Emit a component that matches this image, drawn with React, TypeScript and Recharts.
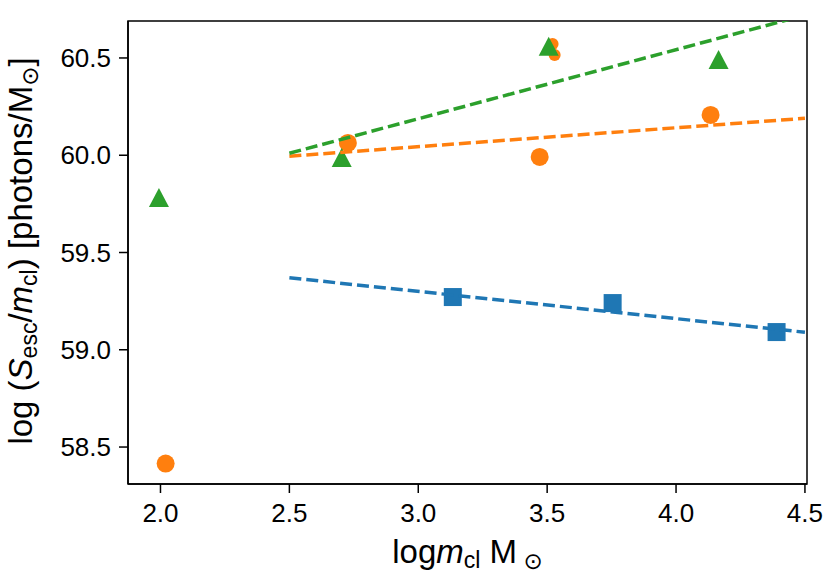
import { ScatterChart, Scatter, XAxis, YAxis, ReferenceArea } from 'recharts'

// marker data
const blueX = [3.134, 3.754, 4.39]
const blueY = [59.271, 59.24, 59.091]

const orangeX = [2.02, 2.727, 3.471, 4.134]
const orangeY = [58.415, 60.063, 59.991, 60.207]

const orangeSmallX = [3.521, 3.529]
const orangeSmallY = [60.572, 60.515]

const greenX = [1.994, 2.703, 3.506, 4.165]
const greenY = [59.78, 59.986, 60.558, 60.49]

// dashed fit lines
const fitX = [2.5, 4.5]
const blueFit = [59.37, 59.09]
const orangeFit = [59.995, 60.19]
const greenFit = [60.01, 60.72]

const xTicks = [2.0, 2.5, 3.0, 3.5, 4.0, 4.5]
const yTicks = [58.5, 59.0, 59.5, 60.0, 60.5]
const xDomain = [1.874, 4.508]
const yDomain = [58.31, 60.69]

const BLUE = '#1f77b4'
const ORANGE = '#ff7f0e'
const GREEN = '#2ca02c'
const FONT = '"Liberation Sans", Arial, "DejaVu Sans", sans-serif'

const toPoints = (xs, ys) => xs.map((x, i) => ({ x, y: ys[i] }))

const dot = (r) => (p) => <circle cx={p.cx} cy={p.cy} r={r} fill={p.fill} />
const square = (p) => <rect x={p.cx - 9} y={p.cy - 9} width={18} height={18} fill={p.fill} />
const triangle = (p) => (
  <polygon
    points={`${p.cx},${p.cy - 10} ${p.cx - 10},${p.cy + 9} ${p.cx + 10},${p.cy + 9}`}
    fill={p.fill}
  />
)
const noShape = () => <g />

const XLabel = ({ viewBox }) => {
  const cx = viewBox.x + viewBox.width / 2
  const y = viewBox.y + 79
  return (
    <text x={cx} y={y} textAnchor="middle" fontSize={33} fontFamily={FONT} fill="#000">
      <tspan>log</tspan>
      <tspan fontStyle="italic">m</tspan>
      <tspan fontSize={23} dy={5}>cl</tspan>
      <tspan dy={-5}> M</tspan>
      <tspan fontSize={23} dy={6}> ⊙</tspan>
    </text>
  )
}

const YLabel = ({ viewBox }) => {
  const x = viewBox.x + 32
  const y = 251
  return (
    <text x={x} y={y} textAnchor="middle" fontSize={33} fontFamily={FONT} fill="#000"
      transform={`rotate(-90, ${x}, ${y})`}>
      <tspan>log (</tspan>
      <tspan fontStyle="italic">S</tspan>
      <tspan fontSize={23} dy={5}>esc</tspan>
      <tspan dy={-5}>/</tspan>
      <tspan fontStyle="italic">m</tspan>
      <tspan fontSize={23} dy={5}>cl</tspan>
      <tspan dy={-5}>) [photons/M</tspan>
      <tspan fontSize={23} dy={6}>⊙</tspan>
      <tspan dy={-6}>]</tspan>
    </text>
  )
}

const tickStyle = { fill: '#000', fontSize: 26, fontFamily: FONT }
const dashed = { strokeWidth: 3.5, strokeDasharray: '12 5' }

export default function App() {
  return (
    <div style={{ position: 'absolute', left: 0, top: 0, background: '#fff' }}>
      <ScatterChart width={830} height={585} margin={{ top: 21, right: 23, bottom: 0, left: 0 }}>
        <XAxis
          type="number"
          dataKey="x"
          domain={xDomain}
          ticks={xTicks}
          allowDataOverflow
          height={101}
          tickSize={9}
          tickMargin={11}
          stroke="#000"
          strokeWidth={1.5}
          tick={tickStyle}
          tickFormatter={(v) => v.toFixed(1)}
          label={{ content: XLabel }}
        />
        <YAxis
          type="number"
          dataKey="y"
          domain={yDomain}
          ticks={yTicks}
          allowDataOverflow
          width={128}
          tickSize={9}
          tickMargin={8}
          stroke="#000"
          strokeWidth={1.5}
          tick={tickStyle}
          tickFormatter={(v) => v.toFixed(1)}
          label={{ content: YLabel }}
        />
        <ReferenceArea x1={xDomain[0]} x2={xDomain[1]} y1={yDomain[0]} y2={yDomain[1]}
          fill="none" stroke="#000" strokeWidth={1.5} fillOpacity={0} />
        <Scatter data={toPoints(orangeX, orangeY)} fill={ORANGE} shape={dot(9)} isAnimationActive={false} />
        <Scatter data={toPoints(orangeSmallX, orangeSmallY)} fill={ORANGE} shape={dot(6)} isAnimationActive={false} />
        <Scatter data={toPoints(greenX, greenY)} fill={GREEN} shape={triangle} isAnimationActive={false} />
        <Scatter data={toPoints(blueX, blueY)} fill={BLUE} shape={square} isAnimationActive={false} />
        <Scatter data={toPoints(fitX, blueFit)} fill={BLUE} line={dashed} shape={noShape} isAnimationActive={false} />
        <Scatter data={toPoints(fitX, orangeFit)} fill={ORANGE} line={dashed} shape={noShape} isAnimationActive={false} />
        <Scatter data={toPoints(fitX, greenFit)} fill={GREEN} line={dashed} shape={noShape} isAnimationActive={false} />
      </ScatterChart>
    </div>
  )
}
